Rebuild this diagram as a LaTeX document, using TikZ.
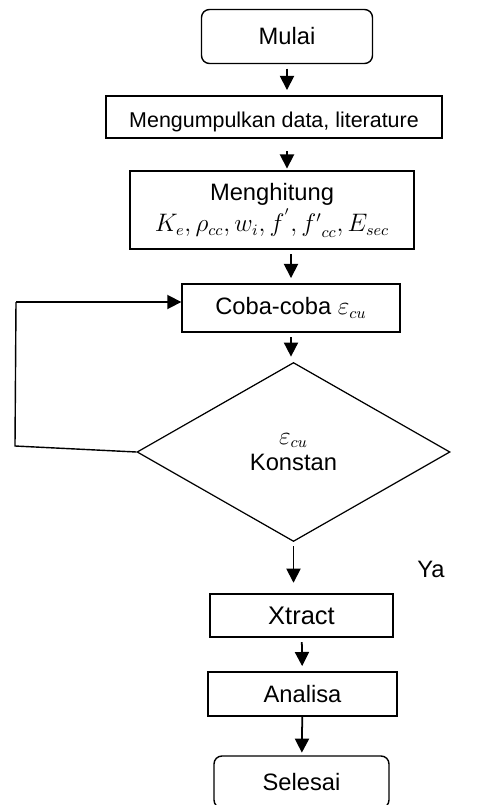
\documentclass[tikz,border=0pt]{standalone}
\usepackage{fontspec}
\setmainfont{Liberation Sans}
\usetikzlibrary{shapes.geometric,arrows.meta}
\tikzset{
  box/.style={draw, line width=0.8pt, inner sep=1pt, font=\fontsize{13.5}{15}\selectfont, align=center},
  term/.style={box, rounded corners=4.5pt},
  keputusan/.style={diamond, draw, line width=0.7pt, inner sep=0pt, font=\fontsize{13.5}{15}\selectfont, align=center},
  arr/.style={line width=1pt, -{Triangle[width=8pt,length=8pt]}, shorten <=2.5pt, shorten >=3pt}
}
\begin{document}
\begin{tikzpicture}[x=0.02cm, y=-0.02cm]
  \useasboundingbox (0,0) rectangle (488,805);
  \node[term, minimum width=3.42cm, minimum height=1.08cm] (mulai) at (287,36.5) {Mulai};
  \node[box, minimum width=6.72cm, minimum height=0.84cm, font=\fontsize{12.2}{14}\selectfont,
    text height=15pt, text depth=2.5pt] (data) at (274,117) {Mengumpulkan data, literature};
  \node[box, minimum width=5.68cm, minimum height=1.56cm] (hitung) at (272,210)
    {Menghitung\\[1pt] $K_e,\rho_{cc},w_i,f^{'},{f'}_{cc},E_{sec}$};
  \node[box, minimum width=4.36cm, minimum height=0.96cm] (coba) at (291,308) {Coba-coba $\varepsilon_{cu}$};
  \node[keputusan, minimum width=6.26cm, minimum height=3.58cm] (cek) at (293.5,452) {$\varepsilon_{cu}$\\Konstan};
  \node[box, minimum width=3.66cm, minimum height=0.86cm, font=\fontsize{14.5}{16}\selectfont] (xtract) at (301.5,615.5) {Xtract};
  \node[box, minimum width=3.78cm, minimum height=0.88cm] (analisa) at (302.5,694) {Analisa};
  \node[term, minimum width=3.5cm, minimum height=1.04cm] (selesai) at (301.5,782) {Selesai};
  \node[font=\fontsize{13.5}{15}\selectfont] (ya) at (431,569) {Ya};
  \coordinate (balikA) at (15,446);
  \coordinate (balikB) at (16,302);

  \draw[arr] (mulai) -- (mulai |- data.north);
  \draw[arr, shorten <=7pt, shorten >=1pt] (data.south -| mulai) -- (hitung.north -| mulai);
  \draw[arr] (hitung.south -| coba) -- (coba);
  \draw[arr] (coba) -- (cek.north -| coba);
  \draw[arr, shorten >=6pt] (cek.south) -- (cek.south |- xtract.north);
  \draw[arr] (xtract) -- (analisa);
  \draw[arr, shorten <=0pt, shorten >=1.5pt] (analisa) -- (selesai);
  \draw[line width=0.8pt] (cek.west) -- (balikA) -- (balikB);
  \draw[arr, shorten <=0pt, shorten >=0pt] (balikB) -- (balikB -| coba.west);
\end{tikzpicture}
\end{document}
